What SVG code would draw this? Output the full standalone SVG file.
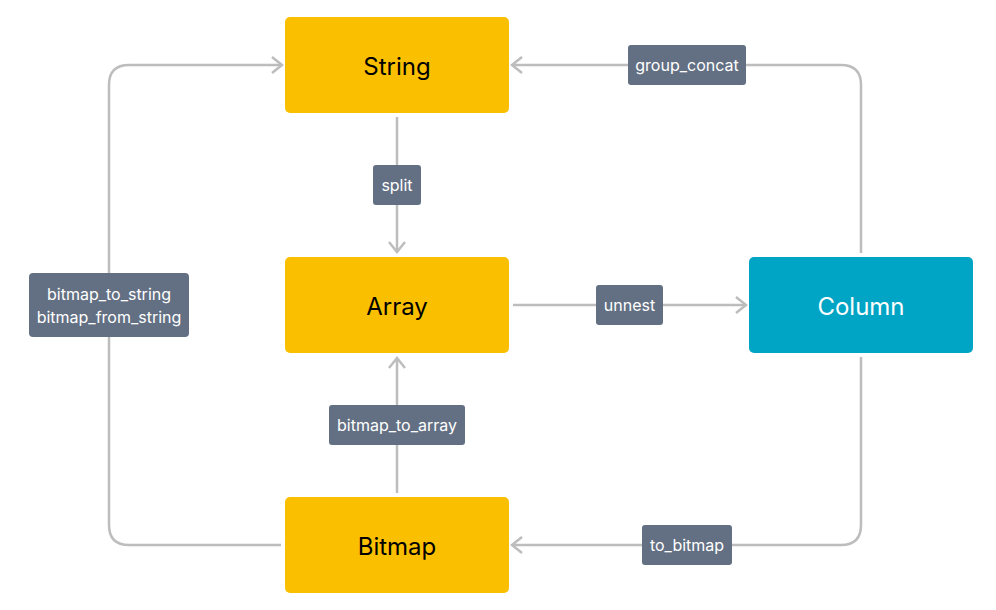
<svg xmlns="http://www.w3.org/2000/svg" width="996" height="610" viewBox="0 0 996 610">
<style>
.node{fill:#FAC000}
.col{fill:#00A4C4}
.nt{font-family:Inter,"Noto Sans",sans-serif;font-size:24px;text-anchor:middle;dominant-baseline:central;fill:#000}
.ct{fill:#fff}
.edge{fill:none;stroke:#BDBDBD;stroke-width:2.5}
.lb{fill:#637083}
.lt{font-family:Inter,"Noto Sans",sans-serif;font-size:16px;fill:#fff;text-anchor:middle;dominant-baseline:central}
</style>
<defs>
<marker id="arr" markerWidth="14" markerHeight="20" refX="11" refY="10" orient="auto" markerUnits="userSpaceOnUse">
<path d="M1,2 L11,10 L1,18" fill="none" stroke="#BDBDBD" stroke-width="2.5"/>
</marker>
</defs>
<rect width="996" height="610" fill="#fff"/>
<g id="connectors">
<path class="edge" d="M281,545 H129 Q109,545 109,525 V85 Q109,65 129,65 H282" marker-end="url(#arr)"/>
<path class="edge" d="M861,253 V85 Q861,65 841,65 H512" marker-end="url(#arr)"/>
<path class="edge" d="M397,117 V252" marker-end="url(#arr)"/>
<path class="edge" d="M513,305 H746" marker-end="url(#arr)"/>
<path class="edge" d="M397,493 V358" marker-end="url(#arr)"/>
<path class="edge" d="M861,357 V525 Q861,545 841,545 H512" marker-end="url(#arr)"/>
<g id="lbl-bts">
<rect class="lb" x="29" y="273" width="160" height="64" rx="4"/>
<text class="lt" x="109" y="294">bitmap_to_string</text>
<text class="lt" x="109" y="317">bitmap_from_string</text>
</g>
<g id="lbl-gc">
<rect class="lb" x="628" y="45" width="118" height="40" rx="3"/>
<text class="lt" x="687" y="65">group_concat</text>
</g>
<g id="lbl-split">
<rect class="lb" x="373" y="165" width="48" height="40" rx="3"/>
<text class="lt" x="397" y="185">split</text>
</g>
<g id="lbl-unnest">
<rect class="lb" x="596" y="285" width="67" height="40" rx="3"/>
<text class="lt" x="629.5" y="305">unnest</text>
</g>
<g id="lbl-bta">
<rect class="lb" x="329" y="405" width="136" height="40" rx="3"/>
<text class="lt" x="397" y="425">bitmap_to_array</text>
</g>
<g id="lbl-tb">
<rect class="lb" x="642" y="525" width="90" height="40" rx="3"/>
<text class="lt" x="687" y="545">to_bitmap</text>
</g>
</g>
<g id="String">
<rect class="node" x="285" y="17" width="224" height="96" rx="5"/>
<text class="nt" x="397" y="66">String</text>
</g>
<g id="Array">
<rect class="node" x="285" y="257" width="224" height="96" rx="5"/>
<text class="nt" x="397" y="306">Array</text>
</g>
<g id="Bitmap">
<rect class="node" x="285" y="497" width="224" height="96" rx="5"/>
<text class="nt" x="397" y="546">Bitmap</text>
</g>
<g id="Column">
<rect class="col" x="749" y="257" width="224" height="96" rx="5"/>
<text class="nt ct" x="861" y="306">Column</text>
</g>
</svg>
